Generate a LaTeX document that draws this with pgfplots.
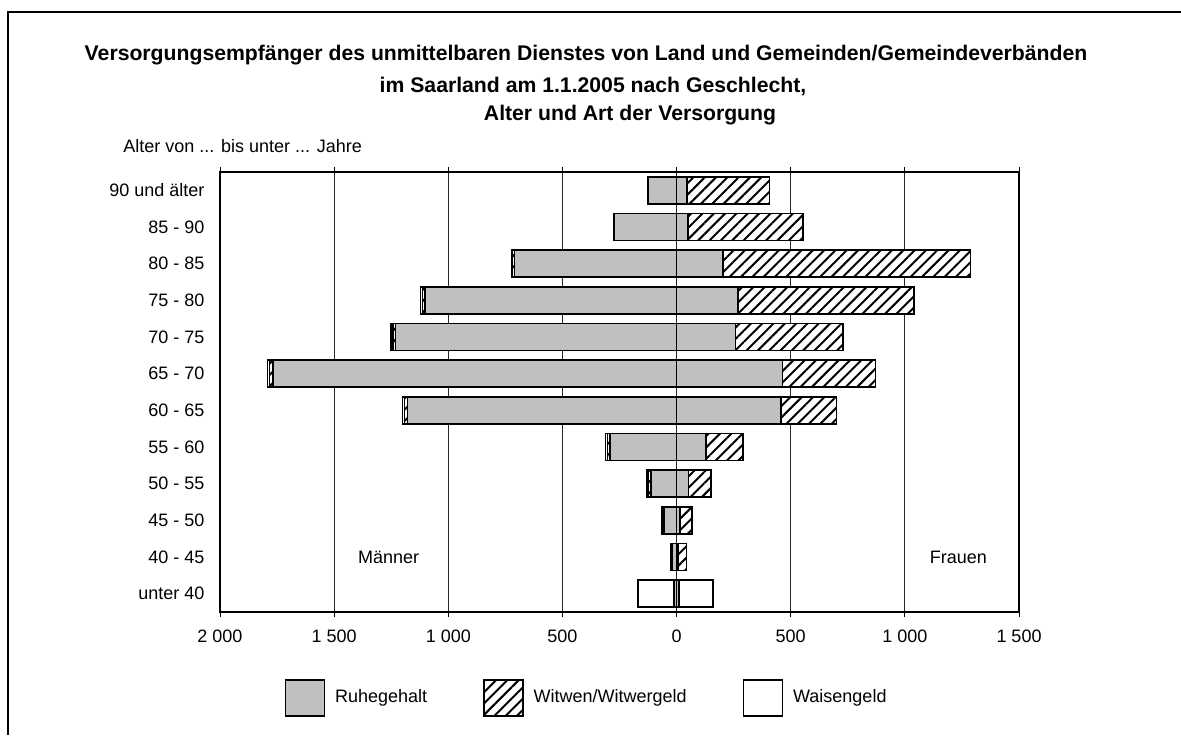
\documentclass[border=0pt]{standalone}
\usepackage{pgfplots}
\pgfplotsset{compat=1.18}
\usepackage{pgfplotstable}
\usepackage{fontspec}
\setmainfont{Liberation Sans}
\usetikzlibrary{patterns.meta}
\definecolor{silver}{RGB}{192,192,192}

% segments: m = Maenner, f = Frauen; R = Ruhegehalt, W = Witwen/Witwergeld, A = Waisengeld
\pgfplotstableread{
pos mR   mW mA  fR  fW   fA
11  125  0  0   46  360  0
10  273  2  0   50  503  0
9   710  8  5   204 1083 0
8   1102 12 8   270 770  0
7   1231 12 8   257 473  0
6   1767 16 10  463 408  0
5   1178 13 10  458 242  0
4   291  12 8   129 161  0
3   113  10 6   52  99   0
2   54   6  4   16  51   0
1   18   4  3   7   37   0
0   12   2  154 10  3    146
}\data

\begin{document}
\begin{tikzpicture}[x=1bp,y=1bp]
\path[use as bounding box] (0,0) rectangle (590.5,367.5);
\draw[line width=1bp] (4,0) -- (4,361.5) -- (592,361.5);
\node[font=\fontsize{10.6bp}{12bp}\selectfont\bfseries] at (293,339.8) {Versorgungsempfänger des unmittelbaren Dienstes von Land und Gemeinden/Gemeindeverbänden};
\node[font=\fontsize{10.6bp}{12bp}\selectfont\bfseries] at (296.5,324.5) {im Saarland am 1.1.2005 nach Geschlecht,};
\node[font=\fontsize{10.6bp}{12bp}\selectfont\bfseries] at (315,310) {Alter und Art der Versorgung};
\node[font=\fontsize{9bp}{11bp}\selectfont, anchor=west, inner sep=0pt] at (61.5,294.5) {Alter von ... bis unter ... Jahre};
\begin{axis}[
  at={(110bp,61.5bp)}, anchor=south west,
  scale only axis, width=399.5bp, height=220bp,
  xmin=-2000, xmax=1500, ymin=-0.5, ymax=11.5,
  xtick={-2000,-1500,-1000,-500,0,500,1000,1500},
  xticklabels={{2 000},{1 500},{1 000},{500},{0},{500},{1 000},{1 500}},
  ytick={0,1,2,3,4,5,6,7,8,9,10,11},
  yticklabels={unter 40,40 - 45,45 - 50,50 - 55,55 - 60,60 - 65,65 - 70,70 - 75,75 - 80,80 - 85,85 - 90,90 und älter},
  xmajorgrids, major grid style={black!85, line width=0.5bp},
  axis line style={line width=0.75bp},
  tick align=outside, major tick length=2.5bp,
  xtick style={black, line width=0.5bp},
  ytick style={draw=none},
  tick label style={font=\fontsize{9bp}{11bp}\selectfont},
  x tick label style={yshift=-3bp},
  y tick label style={xshift=-1.8bp},
  clip=false,
  legend columns=3,
  legend style={at={(0.46,-0.195)}, anchor=center, draw=none, fill=none,
    font=\fontsize{9bp}{11bp}\selectfont,
    /tikz/every even column/.append style={column sep=26bp},
    /tikz/every odd column/.append style={column sep=3bp}},
  mybar/.style={xbar, bar width=13.5bp, draw=black, line width=0.75bp, forget plot},
  hatch/.style={fill=white, postaction={pattern={Lines[angle=45,distance=4bp,line width=1bp]}, pattern color=black}},
]
\addlegendimage{legend image code/.code={\draw[fill=silver, draw=black, line width=0.75bp] (0bp,-9bp) rectangle (19.5bp,9bp);}}
\addlegendentry{Ruhegehalt}
\addlegendimage{legend image code/.code={\draw[fill=white, draw=black, line width=0.75bp, postaction={pattern={Lines[angle=45,distance=4bp,line width=1bp]}, pattern color=black}] (0bp,-9bp) rectangle (19.5bp,9bp);}}
\addlegendentry{Witwen/Witwergeld}
\addlegendimage{legend image code/.code={\draw[fill=white, draw=black, line width=0.75bp] (0bp,-9bp) rectangle (19.5bp,9bp);}}
\addlegendentry{Waisengeld}

% Maenner (left, negative)
\addplot[mybar, fill=white] table[x expr={-(\thisrow{mR}+\thisrow{mW}+\thisrow{mA})}, y=pos]{\data};
\addplot[mybar, hatch] table[x expr={-(\thisrow{mR}+\thisrow{mW})}, y=pos]{\data};
\addplot[mybar, fill=silver] table[x expr={-\thisrow{mR}}, y=pos]{\data};
% Frauen (right, positive)
\addplot[mybar, fill=white] table[x expr={\thisrow{fR}+\thisrow{fW}+\thisrow{fA}}, y=pos]{\data};
\addplot[mybar, hatch] table[x expr={\thisrow{fR}+\thisrow{fW}}, y=pos]{\data};
\addplot[mybar, fill=silver] table[x expr={\thisrow{fR}}, y=pos]{\data};

\node[font=\fontsize{9bp}{11bp}\selectfont] at (axis cs:-1261,1) {Männer};
\node[font=\fontsize{9bp}{11bp}\selectfont] at (axis cs:1234,1) {Frauen};
\end{axis}
\end{tikzpicture}
\end{document}
